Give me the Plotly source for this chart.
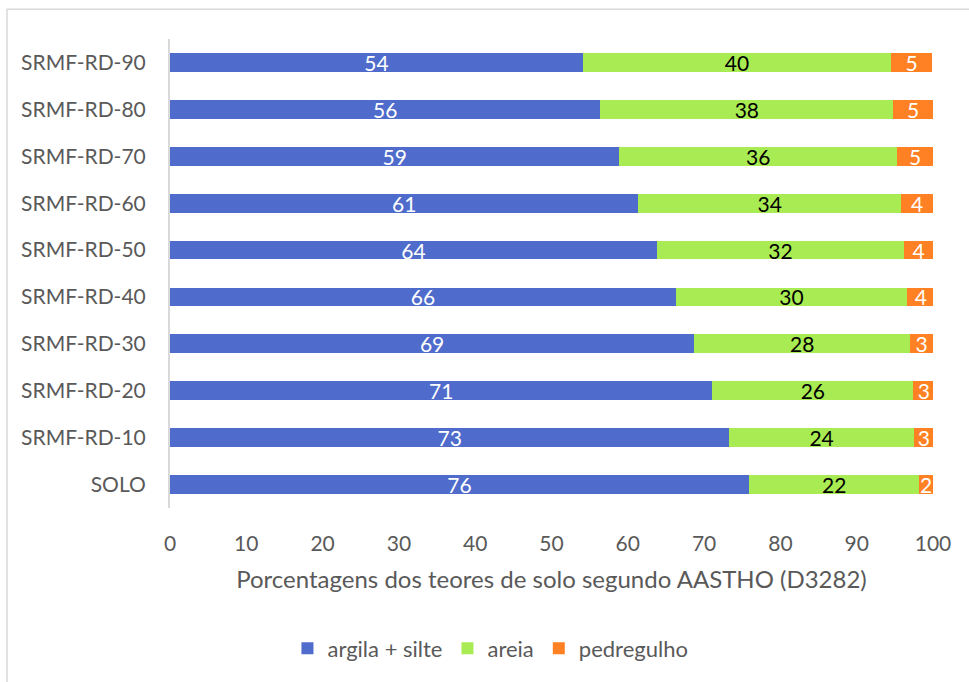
import plotly.graph_objects as go

categories = ["SOLO", "SRMF-RD-10", "SRMF-RD-20", "SRMF-RD-30", "SRMF-RD-40",
              "SRMF-RD-50", "SRMF-RD-60", "SRMF-RD-70", "SRMF-RD-80", "SRMF-RD-90"]
argila_silte = [75.9, 73.3, 71.1, 68.7, 66.3, 63.8, 61.4, 58.9, 56.4, 54.1]
areia = [22.3, 24.2, 26.3, 28.3, 30.3, 32.4, 34.4, 36.4, 38.4, 40.4]
pedregulho = [1.8, 2.6, 2.8, 3.0, 3.6, 3.8, 4.2, 4.7, 5.2, 5.4]

series = [
    ("argila + silte", argila_silte, "#4F6BCB", "white"),
    ("areia", areia, "#A9EB52", "black"),
    ("pedregulho", pedregulho, "#FF8123", "white"),
]

FONT = "Lato"
GRAY = "#595959"

fig = go.Figure()
for name, vals, color, tcolor in series:
    fig.add_trace(go.Bar(
        y=categories, x=vals, name=name, orientation="h",
        marker=dict(color=color, line=dict(width=0)),
        text=vals, texttemplate="%{x:.0f}", textposition="inside",
        insidetextanchor="middle", textangle=0, constraintext="none",
        textfont=dict(family=FONT, size=21, color=tcolor),
        hoverinfo="skip",
    ))

L, R, T, B = 170, 36, 39, 172
W, H = 969, 682
pw, ph = W - L - R, H - T - B

fig.update_layout(
    barmode="stack", bargap=0.6,
    width=W, height=H,
    margin=dict(l=L, r=R, t=T, b=B, pad=0),
    paper_bgcolor="white", plot_bgcolor="white",
    font=dict(family=FONT, size=21, color=GRAY),
    showlegend=True,
    legend=dict(orientation="h", x=0.42, xanchor="center",
                y=1 - (651 - T) / ph, yanchor="middle",
                font=dict(family=FONT, size=22, color=GRAY),
                itemsizing="constant", traceorder="normal"),
    xaxis=dict(range=[0, 100], tick0=0, dtick=10, showgrid=False,
               zeroline=False, showline=False,
               ticks="outside", ticklen=17, tickcolor="rgba(0,0,0,0)",
               tickfont=dict(family=FONT, size=21, color=GRAY),
               title=dict(text="Porcentagens dos teores de solo segundo AASTHO (D3282)",
                          font=dict(family=FONT, size=24, color=GRAY), standoff=16)),
    yaxis=dict(showgrid=False, zeroline=False, showline=True,
               linecolor="#D9D9D9", linewidth=2,
               ticks="outside", ticklen=18, tickcolor="rgba(0,0,0,0)",
               tickfont=dict(family=FONT, size=21, color=GRAY)),
    shapes=[dict(type="rect", xref="paper", yref="paper",
                 x0=(7 - L) / pw, x1=(W + 20 - L) / pw,
                 y0=1 - (H + 20 - T) / ph, y1=1 + (T - 9) / ph,
                 line=dict(color="#D9D9D9", width=1.5), fillcolor="rgba(0,0,0,0)",
                 layer="below")],
)

fig.write_html("out.html")
